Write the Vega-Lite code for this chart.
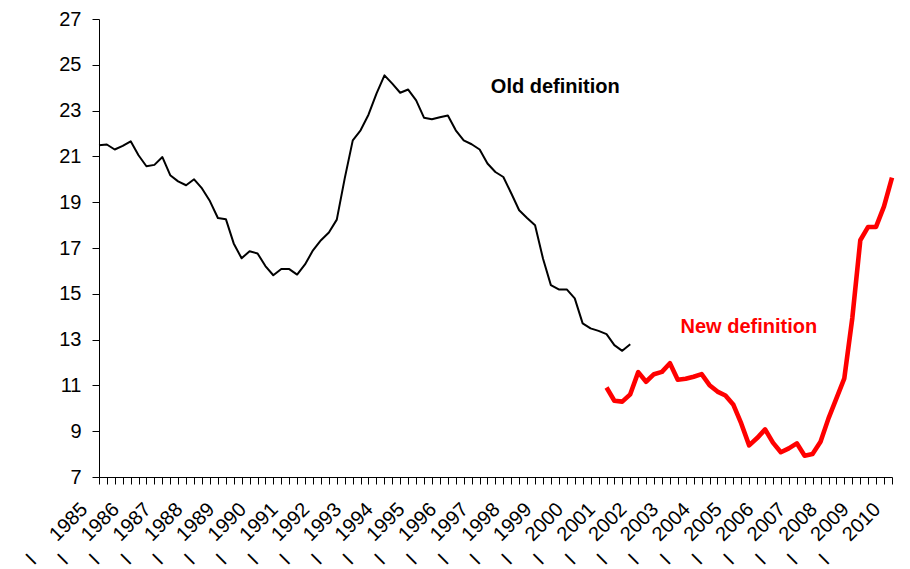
{
  "$schema": "https://vega.github.io/schema/vega-lite/v6.json",
  "width": 793,
  "height": 458,
  "autosize": {"type": "none"},
  "padding": {"left": 99, "top": 19, "right": 18, "bottom": 92},
  "background": "white",
  "config": {"view": {"stroke": null}, "font": "Liberation Sans"},
  "datasets": {
    "series": [
      {"d": "1985-01-01", "v": 21.49, "s": "old"},
      {"d": "1985-04-01", "v": 21.52, "s": "old"},
      {"d": "1985-07-01", "v": 21.30, "s": "old"},
      {"d": "1985-10-01", "v": 21.46, "s": "old"},
      {"d": "1986-01-01", "v": 21.66, "s": "old"},
      {"d": "1986-04-01", "v": 21.05, "s": "old"},
      {"d": "1986-07-01", "v": 20.57, "s": "old"},
      {"d": "1986-10-01", "v": 20.63, "s": "old"},
      {"d": "1987-01-01", "v": 20.97, "s": "old"},
      {"d": "1987-04-01", "v": 20.18, "s": "old"},
      {"d": "1987-07-01", "v": 19.91, "s": "old"},
      {"d": "1987-10-01", "v": 19.74, "s": "old"},
      {"d": "1988-01-01", "v": 20.00, "s": "old"},
      {"d": "1988-04-01", "v": 19.60, "s": "old"},
      {"d": "1988-07-01", "v": 19.05, "s": "old"},
      {"d": "1988-10-01", "v": 18.31, "s": "old"},
      {"d": "1989-01-01", "v": 18.26, "s": "old"},
      {"d": "1989-04-01", "v": 17.20, "s": "old"},
      {"d": "1989-07-01", "v": 16.55, "s": "old"},
      {"d": "1989-10-01", "v": 16.86, "s": "old"},
      {"d": "1990-01-01", "v": 16.76, "s": "old"},
      {"d": "1990-04-01", "v": 16.21, "s": "old"},
      {"d": "1990-07-01", "v": 15.81, "s": "old"},
      {"d": "1990-10-01", "v": 16.08, "s": "old"},
      {"d": "1991-01-01", "v": 16.08, "s": "old"},
      {"d": "1991-04-01", "v": 15.84, "s": "old"},
      {"d": "1991-07-01", "v": 16.28, "s": "old"},
      {"d": "1991-10-01", "v": 16.90, "s": "old"},
      {"d": "1992-01-01", "v": 17.34, "s": "old"},
      {"d": "1992-04-01", "v": 17.68, "s": "old"},
      {"d": "1992-07-01", "v": 18.24, "s": "old"},
      {"d": "1992-10-01", "v": 20.05, "s": "old"},
      {"d": "1993-01-01", "v": 21.70, "s": "old"},
      {"d": "1993-04-01", "v": 22.14, "s": "old"},
      {"d": "1993-07-01", "v": 22.82, "s": "old"},
      {"d": "1993-10-01", "v": 23.74, "s": "old"},
      {"d": "1994-01-01", "v": 24.54, "s": "old"},
      {"d": "1994-04-01", "v": 24.18, "s": "old"},
      {"d": "1994-07-01", "v": 23.78, "s": "old"},
      {"d": "1994-10-01", "v": 23.92, "s": "old"},
      {"d": "1995-01-01", "v": 23.45, "s": "old"},
      {"d": "1995-04-01", "v": 22.69, "s": "old"},
      {"d": "1995-07-01", "v": 22.62, "s": "old"},
      {"d": "1995-10-01", "v": 22.71, "s": "old"},
      {"d": "1996-01-01", "v": 22.79, "s": "old"},
      {"d": "1996-04-01", "v": 22.14, "s": "old"},
      {"d": "1996-07-01", "v": 21.70, "s": "old"},
      {"d": "1996-10-01", "v": 21.53, "s": "old"},
      {"d": "1997-01-01", "v": 21.30, "s": "old"},
      {"d": "1997-04-01", "v": 20.69, "s": "old"},
      {"d": "1997-07-01", "v": 20.32, "s": "old"},
      {"d": "1997-10-01", "v": 20.10, "s": "old"},
      {"d": "1998-01-01", "v": 19.38, "s": "old"},
      {"d": "1998-04-01", "v": 18.65, "s": "old"},
      {"d": "1998-07-01", "v": 18.31, "s": "old"},
      {"d": "1998-10-01", "v": 17.99, "s": "old"},
      {"d": "1999-01-01", "v": 16.53, "s": "old"},
      {"d": "1999-04-01", "v": 15.38, "s": "old"},
      {"d": "1999-07-01", "v": 15.19, "s": "old"},
      {"d": "1999-10-01", "v": 15.19, "s": "old"},
      {"d": "2000-01-01", "v": 14.80, "s": "old"},
      {"d": "2000-04-01", "v": 13.71, "s": "old"},
      {"d": "2000-07-01", "v": 13.49, "s": "old"},
      {"d": "2000-10-01", "v": 13.38, "s": "old"},
      {"d": "2001-01-01", "v": 13.24, "s": "old"},
      {"d": "2001-04-01", "v": 12.76, "s": "old"},
      {"d": "2001-07-01", "v": 12.51, "s": "old"},
      {"d": "2001-10-01", "v": 12.80, "s": "old"},
      {"d": "2001-01-01", "v": 10.91, "s": "new"},
      {"d": "2001-04-01", "v": 10.33, "s": "new"},
      {"d": "2001-07-01", "v": 10.29, "s": "new"},
      {"d": "2001-10-01", "v": 10.61, "s": "new"},
      {"d": "2002-01-01", "v": 11.58, "s": "new"},
      {"d": "2002-04-01", "v": 11.16, "s": "new"},
      {"d": "2002-07-01", "v": 11.49, "s": "new"},
      {"d": "2002-10-01", "v": 11.59, "s": "new"},
      {"d": "2003-01-01", "v": 11.97, "s": "new"},
      {"d": "2003-04-01", "v": 11.25, "s": "new"},
      {"d": "2003-07-01", "v": 11.29, "s": "new"},
      {"d": "2003-10-01", "v": 11.38, "s": "new"},
      {"d": "2004-01-01", "v": 11.49, "s": "new"},
      {"d": "2004-04-01", "v": 11.01, "s": "new"},
      {"d": "2004-07-01", "v": 10.73, "s": "new"},
      {"d": "2004-10-01", "v": 10.56, "s": "new"},
      {"d": "2005-01-01", "v": 10.15, "s": "new"},
      {"d": "2005-04-01", "v": 9.34, "s": "new"},
      {"d": "2005-07-01", "v": 8.38, "s": "new"},
      {"d": "2005-10-01", "v": 8.70, "s": "new"},
      {"d": "2006-01-01", "v": 9.08, "s": "new"},
      {"d": "2006-04-01", "v": 8.50, "s": "new"},
      {"d": "2006-07-01", "v": 8.08, "s": "new"},
      {"d": "2006-10-01", "v": 8.25, "s": "new"},
      {"d": "2007-01-01", "v": 8.47, "s": "new"},
      {"d": "2007-04-01", "v": 7.93, "s": "new"},
      {"d": "2007-07-01", "v": 8.00, "s": "new"},
      {"d": "2007-10-01", "v": 8.54, "s": "new"},
      {"d": "2008-01-01", "v": 9.56, "s": "new"},
      {"d": "2008-04-01", "v": 10.43, "s": "new"},
      {"d": "2008-07-01", "v": 11.31, "s": "new"},
      {"d": "2008-10-01", "v": 13.94, "s": "new"},
      {"d": "2009-01-01", "v": 17.34, "s": "new"},
      {"d": "2009-04-01", "v": 17.92, "s": "new"},
      {"d": "2009-07-01", "v": 17.92, "s": "new"},
      {"d": "2009-10-01", "v": 18.82, "s": "new"},
      {"d": "2010-01-01", "v": 20.07, "s": "new"}
    ],
    "notes": [
      {"d": "1997-05-10", "v": 23.75, "s": "old", "label": "Old definition"},
      {"d": "2003-05-03", "v": 13.27, "s": "new", "label": "New definition"}
    ]
  },
  "encoding": {
    "x": {
      "field": "d",
      "type": "temporal",
      "scale": {
        "type": "utc",
        "domain": [
          {"year": 1985, "month": 1, "date": 1, "utc": true},
          {"year": 2010, "month": 1, "date": 1, "utc": true}
        ],
        "nice": false
      },
      "axis": {
        "title": null,
        "grid": false,
        "tickCount": {"interval": "month", "step": 3},
        "tickSize": 7,
        "tickColor": "#000000",
        "tickWidth": 1,
        "domainColor": "#000000",
        "domainWidth": 1,
        "labelExpr": "utcmonth(datum.value) === 0 ? 'I\u00a0\u00a0\u00a0\u00a0\u00a0' + utcyear(datum.value) : ''",
        "labelAngle": -45,
        "labelAlign": "right",
        "labelBaseline": "middle",
        "labelFont": "Liberation Sans",
        "labelFontSize": 20,
        "labelColor": "#000000",
        "labelPadding": 22,
        "labelOffset": -15,
        "labelOverlap": false,
        "labelBound": false,
        "labelFlush": false
      }
    },
    "y": {
      "field": "v",
      "type": "quantitative",
      "scale": {"domain": [7, 27], "nice": false, "zero": false},
      "axis": {
        "title": null,
        "grid": false,
        "values": [7, 9, 11, 13, 15, 17, 19, 21, 23, 25, 27],
        "tickSize": 7,
        "tickColor": "#000000",
        "tickWidth": 1,
        "domainColor": "#000000",
        "domainWidth": 1,
        "labelFont": "Liberation Sans",
        "labelFontSize": 20,
        "labelColor": "#000000",
        "labelPadding": 11
      }
    }
  },
  "layer": [
    {
      "data": {"name": "series"},
      "transform": [{"filter": "datum.s === 'old'"}],
      "mark": {"type": "line", "color": "#000000", "strokeWidth": 2, "strokeJoin": "round"}
    },
    {
      "data": {"name": "series"},
      "transform": [{"filter": "datum.s === 'new'"}],
      "mark": {"type": "line", "color": "#ff0000", "strokeWidth": 4.6, "strokeJoin": "round"}
    },
    {
      "data": {"name": "notes"},
      "transform": [{"filter": "datum.s === 'old'"}],
      "mark": {"type": "text", "align": "left", "baseline": "alphabetic", "font": "Liberation Sans", "fontWeight": "bold", "fontSize": 20, "color": "#000000"},
      "encoding": {"text": {"field": "label"}}
    },
    {
      "data": {"name": "notes"},
      "transform": [{"filter": "datum.s === 'new'"}],
      "mark": {"type": "text", "align": "left", "baseline": "alphabetic", "font": "Liberation Sans", "fontWeight": "bold", "fontSize": 20, "color": "#ff0000"},
      "encoding": {"text": {"field": "label"}}
    }
  ]
}
